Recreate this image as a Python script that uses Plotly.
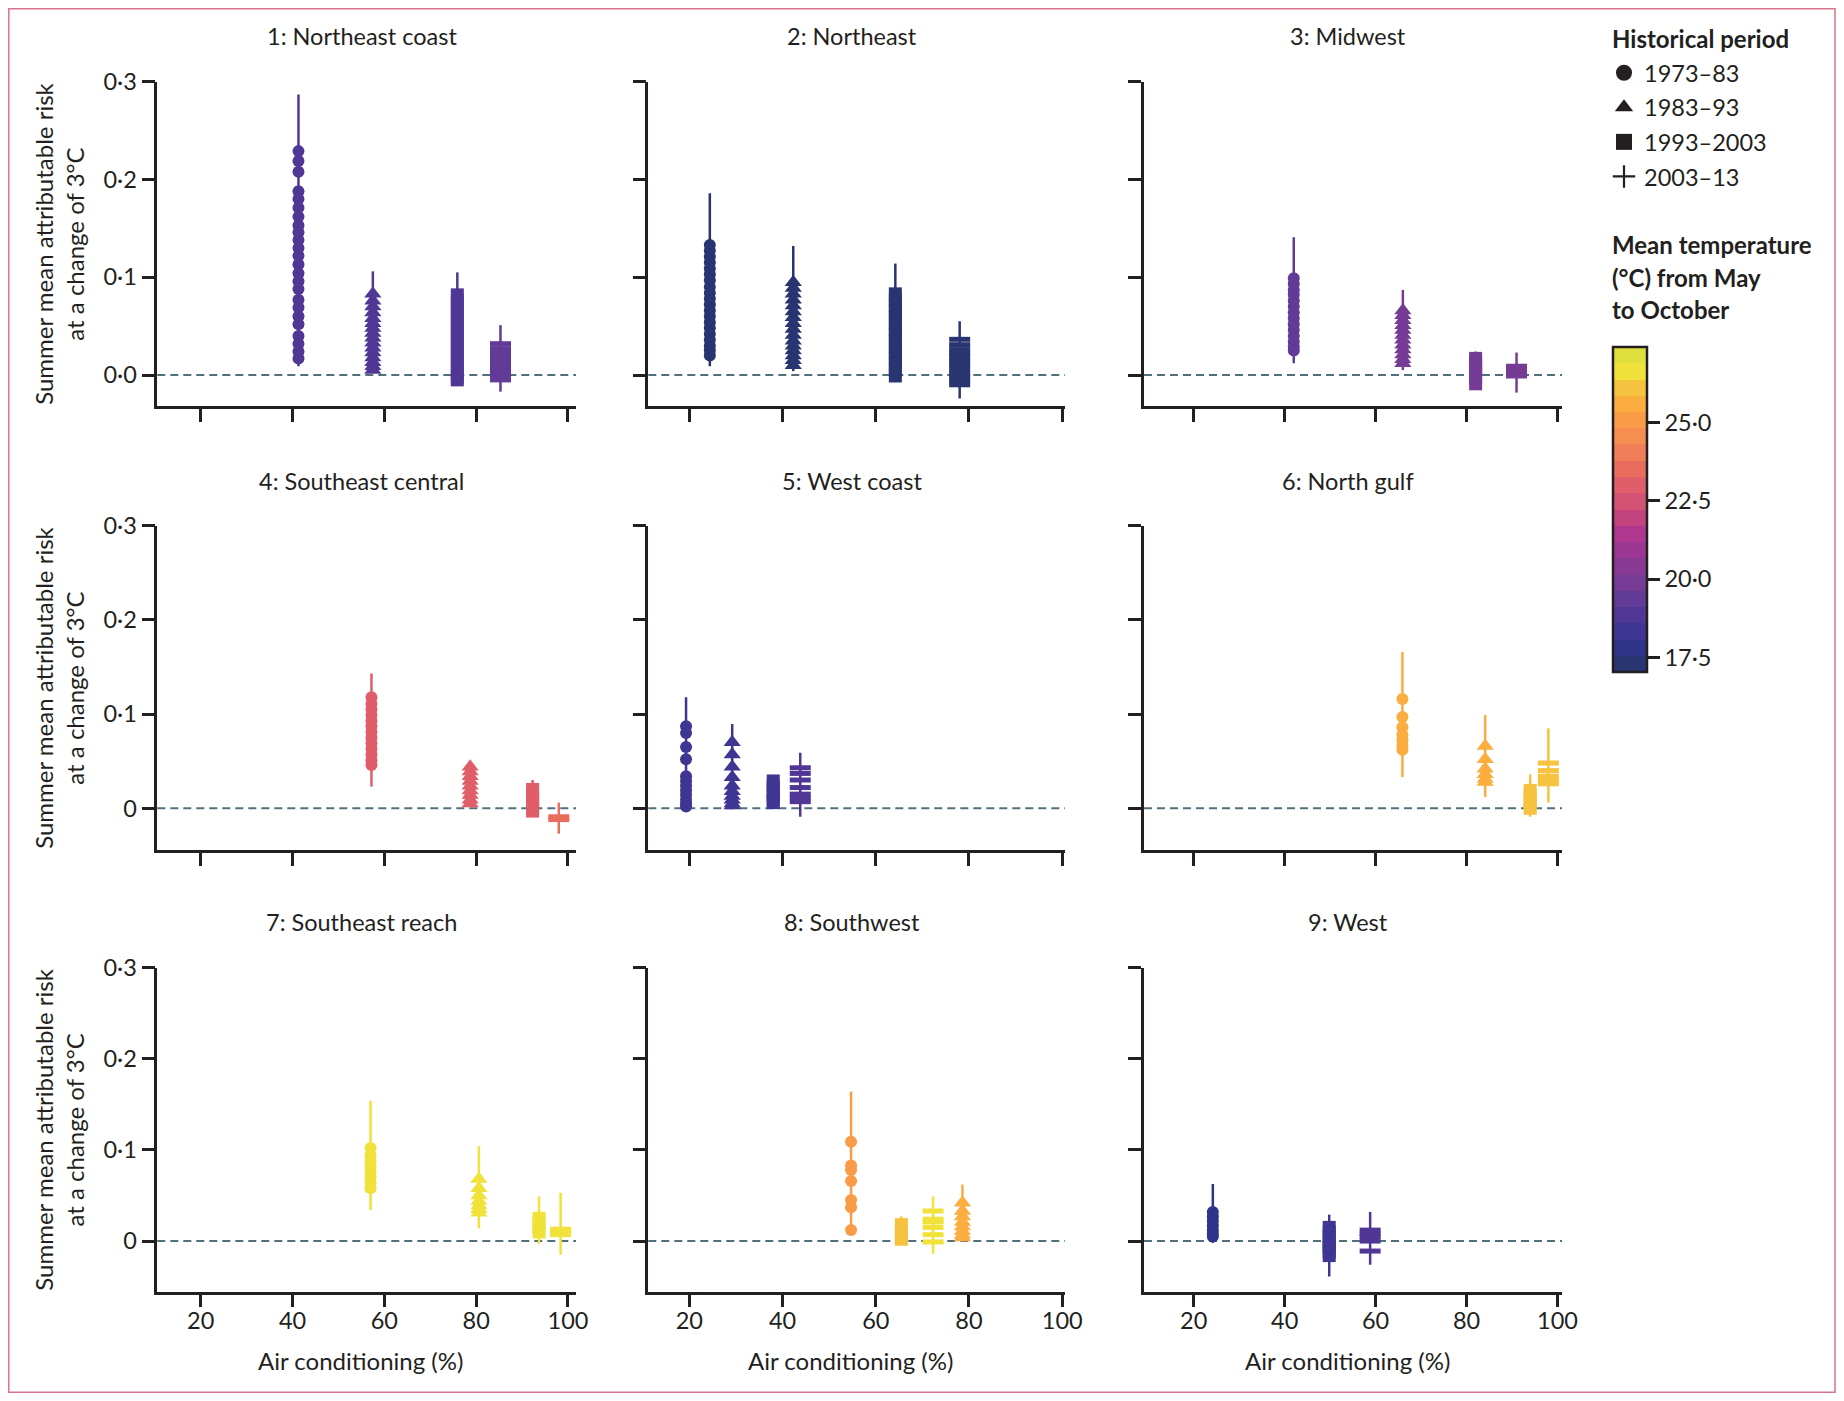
import plotly.graph_objects as go
from plotly.subplots import make_subplots

PAGE_W, PAGE_H = 1844, 1401
BODY_MARGIN = 8
FIG_W, FIG_H = PAGE_W - 2 * BODY_MARGIN, PAGE_H - 2 * BODY_MARGIN
FONT = "Lato"
INK = "#231f20"
FS = 23.5
FS_TICK = 23.5
FS_BOLD = 24

REGIONS = ["1: Northeast coast", "2: Northeast", "3: Midwest",
           "4: Southeast central", "5: West coast", "6: North gulf",
           "7: Southeast reach", "8: Southwest", "9: West"]
PERIODS = ["1973–83", "1983–93", "1993–2003", "2003–13"]
SYMBOLS = ["circle", "triangle-up", "square", "line-ew"]
LEGEND_SYMBOLS = ["circle", "triangle-up", "square", "cross-thin"]
SIZES = [12, 15, 13, 15]

# air-conditioning prevalence (%) per region, per period
AC_PCT = [
    [41.3, 57.5, 75.9, 85.3],
    [24.4, 42.3, 64.2, 78.0],
    [42.0, 66.0, 82.0, 91.0],
    [57.2, 78.7, 92.3, 98.0],
    [19.3, 29.2, 38.0, 43.8],
    [65.9, 84.1, 94.0, 98.0],
    [57.0, 80.6, 93.7, 98.4],
    [54.7, 78.6, 65.5, 72.3],
    [24.2, None, 49.8, 58.8],
]
# mean May-October temperature (°C)
TEMP = [
    [19.0, 19.0, 19.0, 19.5],
    [17.3, 17.3, 17.3, 17.3],
    [19.5, 19.8, 19.9, 19.9],
    [22.8, 23.0, 23.0, 23.4],
    [18.3, 18.3, 18.3, 18.7],
    [25.4, 25.6, 26.3, 26.3],
    [26.6, 26.6, 26.6, 26.6],
    [25.1, 25.6, 26.3, 26.4],
    [17.7, None, 18.3, 18.7],
]
# interval bounds
CI_LO = [
    [0.009, 0.003, -0.008, -0.017],
    [0.009, 0.004, -0.001, -0.024],
    [0.012, 0.005, -0.012, -0.018],
    [0.023, 0.002, -0.003, -0.027],
    [0.000, 0.002, 0.000, -0.009],
    [0.033, 0.012, -0.009, 0.006],
    [0.034, 0.014, -0.003, -0.015],
    [0.012, 0.004, -0.004, -0.014],
    [-0.002, None, -0.039, -0.026],
]
CI_HI = [
    [0.287, 0.106, 0.105, 0.051],
    [0.186, 0.132, 0.114, 0.055],
    [0.141, 0.087, 0.024, 0.023],
    [0.143, 0.047, 0.030, 0.006],
    [0.118, 0.0895, 0.035, 0.059],
    [0.166, 0.099, 0.036, 0.085],
    [0.154, 0.104, 0.049, 0.053],
    [0.164, 0.062, 0.027, 0.049],
    [0.0626, None, 0.029, 0.032],
]
# attributable-risk estimates per region: [1973-83, 1983-93, 1993-2003, 2003-13]
AR_R1 = [
    [0.229, 0.219, 0.208, 0.188, 0.180, 0.171, 0.162, 0.153, 0.146, 0.138, 0.130, 0.122,
     0.113, 0.104, 0.096, 0.088, 0.077, 0.069, 0.060, 0.052, 0.040, 0.032, 0.024, 0.017],
    [0.083, 0.076, 0.070, 0.064, 0.058, 0.053, 0.048, 0.043, 0.038, 0.033, 0.028, 0.023,
     0.018, 0.013, 0.009, 0.005],
    [0.082, 0.076, 0.070, 0.064, 0.058, 0.052, 0.046, 0.040, 0.034, 0.028, 0.022, 0.016,
     0.010, 0.004, -0.002, -0.005],
    [0.032, 0.027, 0.023, 0.019, 0.015, 0.011, 0.007, 0.003, -0.001, -0.005],
]
AR_R2 = [
    [0.133, 0.127, 0.121, 0.115, 0.109, 0.103, 0.097, 0.090, 0.084, 0.078, 0.072, 0.066,
     0.060, 0.054, 0.048, 0.042, 0.036, 0.030, 0.025, 0.020],
    [0.095, 0.089, 0.083, 0.077, 0.071, 0.065, 0.059, 0.053, 0.047, 0.041, 0.035, 0.030,
     0.025, 0.020, 0.015, 0.010],
    [0.083, 0.077, 0.071, 0.065, 0.059, 0.053, 0.047, 0.041, 0.035, 0.029, 0.023, 0.017,
     0.011, 0.005, -0.001],
    [0.0365, 0.031, 0.026, 0.022, 0.018, 0.014, 0.010, 0.006, 0.002, -0.002, -0.006, -0.010],
]
AR_R3 = [
    [0.099, 0.093, 0.087, 0.082, 0.076, 0.070, 0.064, 0.058, 0.052, 0.046, 0.040, 0.034,
     0.029, 0.025],
    [0.066, 0.061, 0.056, 0.051, 0.046, 0.041, 0.036, 0.031, 0.026, 0.021, 0.016, 0.012],
    [0.017, 0.012, 0.007, 0.002, -0.003, -0.009],
    [0.009, 0.006, 0.003, 0.000, -0.001],
]
AR_R4 = [
    [0.118, 0.111, 0.105, 0.099, 0.093, 0.087, 0.081, 0.075, 0.069, 0.063, 0.057, 0.051, 0.046],
    [0.044, 0.039, 0.034, 0.029, 0.024, 0.019, 0.014, 0.009, 0.005],
    [0.020, 0.015, 0.010, 0.005, 0.000, -0.003],
    [-0.009, -0.012],
]
AR_R5 = [
    [0.087, 0.080, 0.065, 0.052, 0.034, 0.029, 0.024, 0.019, 0.014, 0.009, 0.005, 0.002],
    [0.070, 0.057, 0.044, 0.033, 0.024, 0.018, 0.013, 0.009, 0.005, 0.003],
    [0.029, 0.024, 0.019, 0.014, 0.009, 0.006],
    [0.043, 0.037, 0.030, 0.022, 0.015, 0.011, 0.007],
]
AR_R6 = [
    [0.116, 0.097, 0.086, 0.078, 0.072, 0.066, 0.062],
    [0.066, 0.052, 0.042, 0.036, 0.031, 0.028],
    [0.019, 0.014, 0.009, 0.004, 0.000],
    [0.048, 0.040, 0.034, 0.030, 0.026],
]
AR_R7 = [
    [0.102, 0.094, 0.088, 0.082, 0.076, 0.070, 0.064, 0.058],
    [0.068, 0.058, 0.050, 0.044, 0.039, 0.035, 0.031],
    [0.025, 0.020, 0.015, 0.010],
    [0.013, 0.010, 0.007],
]
AR_R8 = [
    [0.109, 0.083, 0.078, 0.066, 0.045, 0.037, 0.012],
    [0.042, 0.033, 0.027, 0.021, 0.016, 0.011, 0.007, 0.004],
    [0.018, 0.013, 0.008, 0.004, 0.002],
    [0.033, 0.024, 0.021, 0.015, 0.007, -0.001],
]
AR_R9 = [
    [0.032, 0.027, 0.022, 0.017, 0.012, 0.008, 0.005],
    [],
    [0.015, 0.010, 0.005, 0.000, -0.004, -0.007, -0.012, -0.016],
    [0.012, 0.008, 0.005, 0.000, -0.011],
]
AR = [AR_R1, AR_R2, AR_R3, AR_R4, AR_R5, AR_R6, AR_R7, AR_R8, AR_R9]

Y_TICKS = [0, 0.1, 0.2, 0.3]
Y_TICKTEXT_TOP = ["0·0", "0·1", "0·2", "0·3"]
Y_TICKTEXT = ["0", "0·1", "0·2", "0·3"]
X_TICKS = [20, 40, 60, 80, 100]

TEMP_MIN, TEMP_MAX = 17.03, 27.39
BAND_COLORS = ["#283570", "#2d348a", "#3f3593", "#503796", "#623a98", "#753b95",
               "#883a93", "#9b3693", "#b0378f", "#c3437e", "#d45273", "#e05e69",
               "#e96d5f", "#f07e58", "#f68e52", "#f99b47", "#fbad3f", "#f6c340",
               "#f0e23a", "#dfe040"]
CB_TICKS = [17.5, 20.0, 22.5, 25.0]
CB_TICKTEXT = ["17·5", "20·0", "22·5", "25·0"]

# ---------------- layout geometry (page pixels) ----------------
COL_PX = [(157.3, 576.0), (648.3, 1065.0), (1144.0, 1562.0)]
ROW_PX = [(81.7, 406.0), (525.7, 850.0), (967.7, 1291.7)]
X_RANGES = [[10.55, 101.75], [11.2, 100.6], [9.06, 101.0]]
Y_RANGES = [[-0.0317, 0.3], [-0.0443, 0.3], [-0.0556, 0.3]]
TITLE_Y = [36.5, 481.0, 922.0]


def px_x(v):
    return (v - BODY_MARGIN) / FIG_W


def px_y(v):
    return 1 - (v - BODY_MARGIN) / FIG_H


def band_color(t):
    n = len(BAND_COLORS)
    i = int((t - TEMP_MIN) / (TEMP_MAX - TEMP_MIN) * n)
    return BAND_COLORS[max(0, min(n - 1, i))]


stepped = []
for i, c in enumerate(BAND_COLORS):
    stepped.append([i / len(BAND_COLORS), c])
    stepped.append([(i + 1) / len(BAND_COLORS), c])

fig = make_subplots(rows=3, cols=3)

for k in range(9):
    r, c = divmod(k, 3)
    for p in range(4):
        x = AC_PCT[k][p]
        vals = AR[k][p]
        if x is None or not vals:
            continue
        t = TEMP[k][p]
        col = band_color(t)
        fig.add_trace(go.Scatter(
            x=[x, x], y=[CI_LO[k][p], CI_HI[k][p]], mode="lines",
            line=dict(color=col, width=2.5), showlegend=False, hoverinfo="skip"),
            row=r + 1, col=c + 1)
        marker = dict(symbol=SYMBOLS[p], size=SIZES[p], color=[t] * len(vals),
                      coloraxis="coloraxis", line=dict(width=0), opacity=1)
        if SYMBOLS[p] == "line-ew":
            marker["line"] = dict(width=5, color=[t] * len(vals), coloraxis="coloraxis")
        fig.add_trace(go.Scatter(
            x=[x] * len(vals), y=vals, mode="markers", marker=marker,
            showlegend=False, name=PERIODS[p]),
            row=r + 1, col=c + 1)

# legend entries
for p in range(4):
    fig.add_trace(go.Scatter(
        x=[None], y=[None], mode="markers", name=PERIODS[p], legendgroup=PERIODS[p],
        marker=dict(symbol=LEGEND_SYMBOLS[p], size=16, color=INK,
                    line=dict(color=INK, width=2.2 if p == 3 else 0)),
        showlegend=True), row=1, col=1)

axis_common = dict(showline=True, linecolor=INK, linewidth=2.5, ticks="outside",
                   ticklen=13, tickwidth=2.5, tickcolor=INK, showgrid=False,
                   zeroline=False, tickfont=dict(family=FONT, size=FS_TICK, color=INK))

for k in range(9):
    r, c = divmod(k, 3)
    x0, x1 = COL_PX[c]
    y0, y1 = ROW_PX[r]
    fig.update_xaxes(domain=[px_x(x0), px_x(x1)], range=X_RANGES[c], tickvals=X_TICKS,
                     showticklabels=(r == 2), ticklabelstandoff=-7,
                     **axis_common, row=r + 1, col=c + 1)
    fig.update_yaxes(domain=[px_y(y1), px_y(y0)], range=Y_RANGES[r], tickvals=Y_TICKS,
                     ticktext=Y_TICKTEXT_TOP if r == 0 else Y_TICKTEXT,
                     showticklabels=(c == 0), **axis_common, row=r + 1, col=c + 1)
    xa = "x" if k == 0 else f"x{k + 1}"
    ya = "y" if k == 0 else f"y{k + 1}"
    fig.add_shape(type="line", xref=f"{xa} domain", yref=ya, x0=0, x1=1, y0=0, y1=0,
                  line=dict(color="#52707c", width=2, dash="8px,5px"), layer="below")
    # panel title
    fig.add_annotation(text=REGIONS[k], xref="paper", yref="paper",
                       x=px_x((x0 + x1) / 2 - 5), y=px_y(TITLE_Y[r]),
                       xanchor="center", yanchor="middle", showarrow=False,
                       font=dict(family=FONT, size=FS, color=INK))
    if c == 0:
        fig.add_annotation(text="Summer mean attributable risk<br>at a change of 3°C",
                           xref="paper", yref="paper", x=px_x(59), y=px_y((y0 + y1) / 2),
                           xanchor="center", yanchor="middle", textangle=-90,
                           showarrow=False, font=dict(family=FONT, size=24, color=INK))
    if r == 2:
        fig.add_annotation(text="Air conditioning (%)", xref="paper", yref="paper",
                           x=px_x((x0 + x1) / 2 - 6), y=px_y(1360.6),
                           xanchor="center", yanchor="middle", showarrow=False,
                           font=dict(family=FONT, size=24, color=INK))

# legend and colour-bar titles
fig.add_annotation(text="<b>Historical period</b>", xref="paper", yref="paper",
                   x=px_x(1610), y=px_y(39), xanchor="left", yanchor="middle",
                   showarrow=False, font=dict(family=FONT, size=FS_BOLD, color=INK))
for line, yc in zip(["Mean temperature", "(°C) from May", "to October"], [245, 277.5, 309.5]):
    fig.add_annotation(text=f"<b>{line}</b>", xref="paper", yref="paper",
                       x=px_x(1610), y=px_y(yc), xanchor="left", yanchor="middle",
                       showarrow=False, font=dict(family=FONT, size=FS_BOLD, color=INK))

# frame
fig.add_shape(type="rect", xref="paper", yref="paper", x0=px_x(8.8), x1=px_x(1835),
              y0=px_y(1392.2), y1=px_y(8.8), line=dict(color="#d9738c", width=1.5))

fig.update_layout(
    width=FIG_W, height=FIG_H,
    margin=dict(l=0, r=0, t=0, b=0, pad=0, autoexpand=False),
    paper_bgcolor="white", plot_bgcolor="white",
    font=dict(family=FONT, size=FS, color=INK),
    showlegend=True,
    legend=dict(x=px_x(1604), y=px_y(51), xanchor="left", yanchor="top",
                font=dict(family=FONT, size=FS, color=INK), tracegroupgap=1,
                bgcolor="rgba(0,0,0,0)", itemsizing="trace"),
    coloraxis=dict(
        colorscale=stepped, cmin=TEMP_MIN, cmax=TEMP_MAX, showscale=True,
        colorbar=dict(x=px_x(1612.7), xanchor="left", y=px_y(672.3), yanchor="bottom",
                      len=325 / FIG_H, lenmode="fraction", thickness=34,
                      thicknessmode="pixels", outlinewidth=2.5, outlinecolor=INK,
                      ticks="outside", ticklen=12, tickwidth=2.5, tickcolor=INK,
                      tickvals=CB_TICKS, ticktext=CB_TICKTEXT,
                      tickfont=dict(family=FONT, size=FS_TICK, color=INK), xpad=0, ypad=0)),
)

fig.write_html("out.html")
